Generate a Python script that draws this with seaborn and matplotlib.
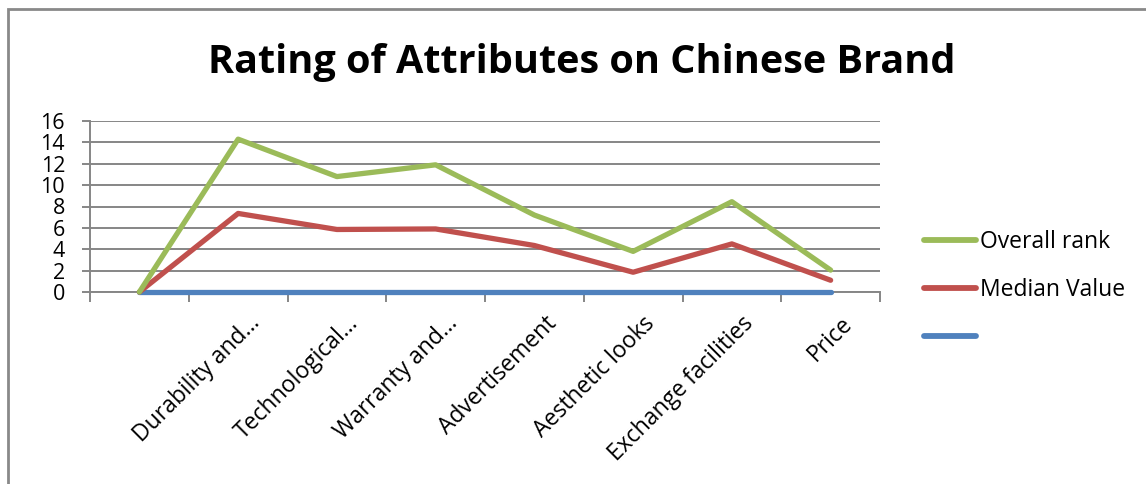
import matplotlib
matplotlib.use("Agg")
import matplotlib.pyplot as plt
import matplotlib.transforms as mtrans
import seaborn as sns
import pandas as pd
from matplotlib.lines import Line2D
from matplotlib.patches import Rectangle

categories = ["", "Durability and...", "Technological...", "Warranty and...",
              "Advertisement", "Aesthetic looks", "Exchange facilities", "Price"]
overall_rank = [0, 14.3, 10.8, 11.9, 7.2, 3.8, 8.45, 2.05]
median_value = [0, 7.35, 5.85, 5.9, 4.35, 1.85, 4.5, 1.1]
blank_series = [0, 0, 0, 0, 0, 0, 0, 0]
series_names = ["Overall rank", "Median Value", " "]
colors = ["#9BBB59", "#C0504D", "#4F81BD"]
y_ticks = [0, 2, 4, 6, 8, 10, 12, 14, 16]

sns.set_theme(style="white")
plt.rcParams['font.family'] = ['Open Sans', 'DejaVu Sans']
plt.rcParams['text.color'] = 'black'
plt.rcParams['xtick.color'] = 'black'
plt.rcParams['ytick.color'] = 'black'

pos = list(range(len(categories)))
df = pd.DataFrame({
    "pos": pos * 3,
    "value": blank_series + median_value + overall_rank,
    "series": [series_names[2]] * len(pos) + [series_names[1]] * len(pos) + [series_names[0]] * len(pos),
})

fig = plt.figure(figsize=(11.46, 4.84), dpi=100)
ax = fig.add_axes([90/1146, 1-292/484, (880-90)/1146, (292-121)/484])

sns.lineplot(data=df, x="pos", y="value", hue="series",
             hue_order=[series_names[2], series_names[1], series_names[0]],
             palette=[colors[2], colors[1], colors[0]],
             linewidth=3.8, ax=ax, legend=False)
for ln in ax.lines:
    ln.set_clip_on(False)
    ln.set_solid_capstyle("round")
    ln.set_zorder(3)

grid_color = "#868686"
fs = 16.5
ax.set_xlim(-0.5, len(categories) - 0.5)
ax.set_ylim(0, 16)
ax.set_yticks(y_ticks)
ax.set_yticklabels([str(t) for t in y_ticks], fontsize=15.5)
ax.yaxis.grid(True, color=grid_color, linewidth=1.4)
ax.set_axisbelow(True)
ax.set_xticks([p - 0.5 for p in pos] + [len(pos) - 0.5])
ax.set_xticklabels([])
ax.set_xticks(pos, minor=True)
ax.set_xticklabels(categories, minor=True, rotation=45, ha="right", va="top",
                   rotation_mode="anchor", fontsize=fs)
ax.tick_params(axis="x", which="major", direction="out", length=7, width=1.4, color=grid_color, bottom=True)
ax.tick_params(axis="x", which="minor", length=0, pad=14)
ax.tick_params(axis="y", direction="out", length=6, width=1.4, color=grid_color, left=True, pad=12)
offset = mtrans.ScaledTranslation(10/100, 0, fig.dpi_scale_trans)
for lbl in ax.get_xticklabels(minor=True):
    lbl.set_transform(lbl.get_transform() + offset)

for s in ["top", "right"]:
    ax.spines[s].set_visible(False)
for s in ["left", "bottom"]:
    ax.spines[s].set_color(grid_color)
    ax.spines[s].set_linewidth(1.4)
ax.set_xlabel("")
ax.set_ylabel("")

fig.text(582/1146, 1-62/484, "Rating of Attributes on Chinese Brand", ha="center", va="center",
         fontsize=28.5, fontweight="bold", color="black")

handles = [Line2D([0], [0], color=c, linewidth=4.2, solid_capstyle="round") for c in colors]
fig.legend(handles, series_names, loc="center left", bbox_to_anchor=(903/1146, 1-290/484),
           frameon=False, fontsize=fs, handlelength=2.3, handletextpad=0.15, labelspacing=1.05)

fig.add_artist(Rectangle((8/1146, -0.1), 1.2, 1 - 9/484 + 0.1, transform=fig.transFigure,
                         fill=False, edgecolor="#898989", linewidth=2))

fig.savefig("out.png", dpi=100)
